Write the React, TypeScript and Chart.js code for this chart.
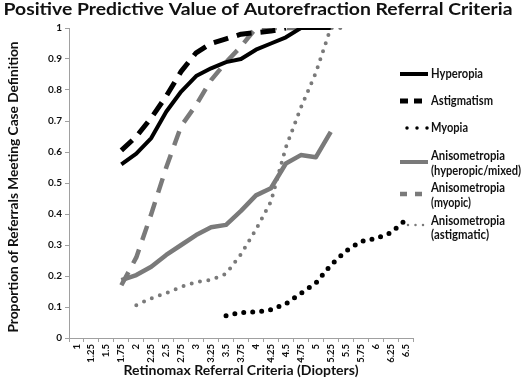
import { useEffect, useRef } from "react";
import { Chart, registerables } from "chart.js";

Chart.register(...registerables);

const categories = ["1", "1.25", "1.5", "1.75", "2", "2.25", "2.5", "2.75", "3", "3.25", "3.5", "3.75", "4", "4.25", "4.5", "4.75", "5", "5.25", "5.5", "5.75", "6", "6.25", "6.5"];

const hyperopia = [null, null, null, 0.56, 0.595, 0.645, 0.73, 0.795, 0.845, 0.87, 0.89, 0.9, 0.93, 0.95, 0.97, 1.0, 1.0, 1.0, null, null, null, null, null];
const astigmatism = [null, null, null, 0.605, 0.65, 0.71, 0.78, 0.86, 0.92, 0.95, 0.965, 0.98, 0.985, 0.99, 1.0, null, null, null, null, null, null, null, null];
const myopia = [null, null, null, null, null, null, null, null, null, null, 0.072, 0.082, 0.084, 0.091, 0.11, 0.144, 0.177, 0.235, 0.28, 0.311, 0.321, 0.339, 0.38];
const anisoHyperopicMixed = [null, null, null, 0.187, 0.203, 0.23, 0.268, 0.3, 0.332, 0.357, 0.365, 0.41, 0.46, 0.483, 0.563, 0.59, 0.583, 0.665, null, null, null, null, null];
const anisoMyopic = [null, null, null, 0.17, 0.26, 0.4, 0.55, 0.684, 0.752, 0.832, 0.89, 0.94, 1.0, 1.0, 1.0, 1.0, null, null, null, null, null, null, null];
const anisoAstigmatic = [null, null, null, null, 0.106, 0.128, 0.145, 0.165, 0.18, 0.188, 0.207, 0.27, 0.35, 0.44, 0.615, 0.743, 0.855, 1.0, 1.0, null, null, null, null];

const yTickLabels = ["0", "0.1", "0.2", "0.3", "0.4", "0.5", "0.6", "0.7", "0.8", "0.9", "1"];

const titleText = "Positive Predictive Value of Autorefraction Referral Criteria";
const xTitleText = "Retinomax Referral Criteria (Diopters)";
const yTitleText = "Proportion of Referrals Meeting Case Definition";

const BLACK = "#000000";
const GRAY = "#7a7a7a";
const TEXT = "#111111";
const AXIS = "#a0a0a0";
const FONT = "Lato, 'Open Sans', sans-serif";

type Style = { color: string; width: number; dash: number[]; cap: CanvasLineCap };

const styles: Style[] = [
  { color: BLACK, width: 4, dash: [], cap: "butt" },
  { color: BLACK, width: 5, dash: [15, 9], cap: "butt" },
  { color: BLACK, width: 5, dash: [0, 9], cap: "round" },
  { color: GRAY, width: 4.5, dash: [], cap: "butt" },
  { color: GRAY, width: 4.5, dash: [15, 10], cap: "butt" },
  { color: GRAY, width: 4, dash: [0, 8.5], cap: "round" },
];

const seriesNames = [
  ["Hyperopia"],
  ["Astigmatism"],
  ["Myopia"],
  ["Anisometropia", "(hyperopic/mixed)"],
  ["Anisometropia", "(myopic)"],
  ["Anisometropia", "(astigmatic)"],
];
const seriesData = [hyperopia, astigmatism, myopia, anisoHyperopicMixed, anisoMyopic, anisoAstigmatic];

// legend layout
const legendSampleY = [74, 101, 128, 162, 194, 225];
const legendTextY = [[74], [101], [128], [156, 171], [188, 203], [221, 235]];
const legendTextW = [[52], [62], [37], [74, 90], [74, 40], [74, 58]];
const legendSampleDash = [[], [8, 6], [0, 10], [], [7, 8], [0, 7.5]];
const legendSampleWidth = [4, 5, 3.5, 4, 4.5, 2.5];
const legendSampleX0 = [400, 400, 407, 400, 400, 408];
const legendSampleX1 = [428, 422, 428, 428, 422, 426];

function fitText(ctx: CanvasRenderingContext2D, text: string, x: number, y: number, size: number, target: number, align: "left" | "center") {
  ctx.save();
  ctx.font = `bold ${size}px ${FONT}`;
  const w = ctx.measureText(text).width;
  const sx = target / w;
  ctx.translate(x, y);
  ctx.scale(sx, 1);
  ctx.textAlign = align;
  ctx.textBaseline = "middle";
  ctx.fillText(text, 0, 0);
  ctx.restore();
}

const textPlugin = {
  id: "customText",
  afterDraw(chart: any) {
    const ctx: CanvasRenderingContext2D = chart.ctx;
    const area = chart.chartArea;
    ctx.save();
    ctx.fillStyle = TEXT;
    fitText(ctx, titleText, 258, 10, 17, 509, "center");
    fitText(ctx, xTitleText, (area.left + area.right) / 2, 371, 13.5, 235, "center");

    ctx.save();
    ctx.translate(14, 187);
    ctx.rotate(-Math.PI / 2);
    fitText(ctx, yTitleText, 0, 0, 13, 291, "center");
    ctx.restore();

    for (let i = 0; i < seriesNames.length; i++) {
      const st = styles[i];
      ctx.save();
      ctx.strokeStyle = st.color;
      ctx.lineWidth = legendSampleWidth[i];
      ctx.lineCap = st.cap;
      ctx.setLineDash(legendSampleDash[i]);
      ctx.beginPath();
      ctx.moveTo(legendSampleX0[i], legendSampleY[i]);
      ctx.lineTo(legendSampleX1[i], legendSampleY[i]);
      ctx.stroke();
      ctx.restore();
      seriesNames[i].forEach((line, j) => {
        fitText(ctx, line, 431, legendTextY[i][j], 13.5, legendTextW[i][j], "left");
      });
    }
    ctx.restore();
  },
};

export default function App() {
  const ref = useRef<HTMLCanvasElement | null>(null);
  useEffect(() => {
    if (!ref.current) return;
    const chart = new Chart(ref.current, {
      type: "line",
      data: {
        labels: categories,
        datasets: seriesData.map((d, i) => ({
          label: seriesNames[i].join(" "),
          data: d,
          borderColor: styles[i].color,
          backgroundColor: styles[i].color,
          borderWidth: styles[i].width,
          borderDash: styles[i].dash,
          borderCapStyle: styles[i].cap,
          borderJoinStyle: "round",
          pointRadius: 0,
          tension: 0,
          fill: false,
          spanGaps: false,
        })),
      },
      options: {
        responsive: false,
        animation: false,
        events: [],
        layout: { padding: { top: 28, right: 112, left: 0, bottom: 0 } },
        plugins: {
          legend: { display: false },
          title: { display: false },
          tooltip: { enabled: false },
        },
        scales: {
          x: {
            type: "category",
            offset: true,
            grid: { display: true, drawOnChartArea: false, drawTicks: true, tickLength: 4, color: AXIS, offset: true },
            border: { color: AXIS, width: 1 },
            ticks: {
              autoSkip: false,
              minRotation: 90,
              maxRotation: 90,
              color: TEXT,
              padding: 2,
              font: { family: FONT, size: 9.5, weight: "bold" },
            },
            afterFit: (s: any) => {
              s.height = 49;
            },
          },
          y: {
            type: "linear",
            min: 0,
            max: 1,
            grid: { display: true, drawOnChartArea: false, drawTicks: true, tickLength: 4, color: AXIS },
            border: { color: AXIS, width: 1 },
            ticks: {
              stepSize: 0.1,
              color: TEXT,
              padding: 3,
              font: { family: FONT, size: 10, weight: "bold" },
              callback: (_v: any, idx: number) => yTickLabels[idx],
            },
            afterFit: (s: any) => {
              s.width = 69;
            },
          },
        },
      },
      plugins: [textPlugin],
    } as any);
    return () => chart.destroy();
  }, []);
  return (
    <div style={{ position: "fixed", left: 0, top: 0, width: 525, height: 387, background: "#fff" }}>
      <canvas ref={ref} width={525} height={387} style={{ display: "block" }} />
    </div>
  );
}
